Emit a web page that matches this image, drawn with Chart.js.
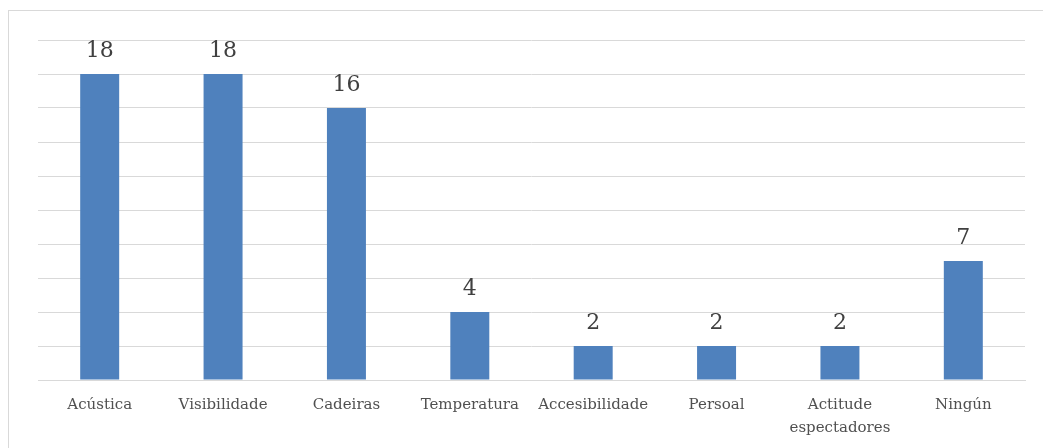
<!DOCTYPE html>
<html>
<head>
<meta charset="utf-8">
<script src="https://cdn.jsdelivr.net/npm/chart.js@4"></script>
<style>
  html, body { margin:0; padding:0; background:#fff; }
  #wrap { position:relative; width:1043px; height:448px; overflow:hidden; }
  #frame { position:absolute; left:8px; top:10px; width:1060px; height:460px; border:1px solid #d9d9d9; box-sizing:border-box; }
  canvas { position:absolute; left:0; top:0; }
</style>
</head>
<body>
<div id="wrap">
  <div id="frame"></div>
  <canvas id="chart" width="1043" height="448"></canvas>
</div>
<script>
/* ------------- DATOS ------------- */
const categories = ["Acústica","Visibilidade","Cadeiras","Temperatura","Accesibilidade","Persoal",["Actitude","espectadores"],"Ningún"];
const values     = [18,18,16,4,2,2,2,7];
const yMax  = 20;
const yStep = 2;

/* ---- etiquetas enriba das barras ---- */
const barLabels = {
  id:"barLabels",
  afterDatasetsDraw(chart){
    const ctx = chart.ctx;
    const meta = chart.getDatasetMeta(0);
    ctx.save();
    ctx.font = "22px 'DejaVu Serif'";
    ctx.fillStyle = "#404040";
    ctx.textAlign = "center";
    ctx.textBaseline = "bottom";
    meta.data.forEach((bar,i)=>{
      ctx.fillText(String(values[i]), bar.x, bar.y - 12);
    });
    ctx.restore();
  }
};

new Chart(document.getElementById("chart").getContext("2d"),{
  type:"bar",
  data:{
    labels:categories,
    datasets:[{
      data:values,
      backgroundColor:"#4f81bd",
      borderWidth:0,
      barPercentage:0.316,
      categoryPercentage:1
    }]
  },
  plugins:[barLabels],
  options:{
    responsive:false,
    animation:false,
    layout:{padding:{left:38,right:18,top:40,bottom:-5}},
    plugins:{legend:{display:false},tooltip:{enabled:false}},
    scales:{
      x:{
        grid:{display:false,drawTicks:false},
        border:{display:true,color:"#d9d9d9",width:1},
        ticks:{
          color:"#505050",
          font:{family:"DejaVu Serif",size:15,lineHeight:1.5},
          padding:14,
          maxRotation:0,
          autoSkip:false
        }
      },
      y:{
        min:0,
        max:yMax,
        grid:{color:"#d9d9d9",lineWidth:1,drawTicks:false},
        border:{display:false},
        ticks:{display:false,stepSize:yStep}
      }
    }
  }
});
</script>
</body>
</html>
